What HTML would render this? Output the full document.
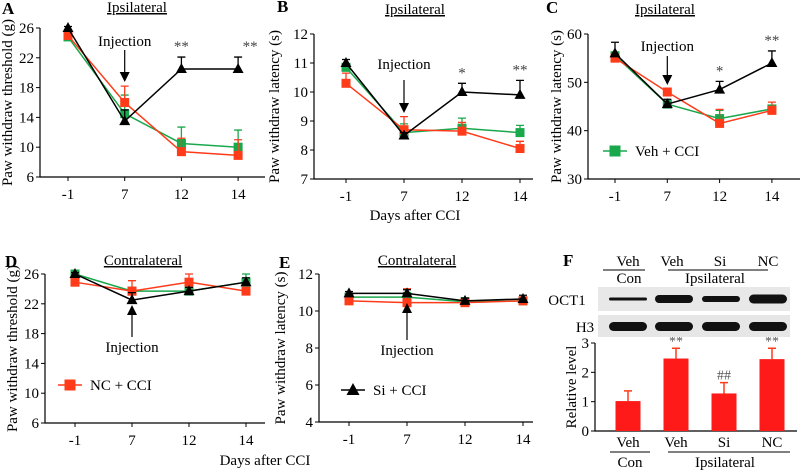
<!DOCTYPE html>
<html><head><meta charset="utf-8">
<style>
html,body{margin:0;padding:0;background:#fff;}
svg, svg text{font-family:"Liberation Serif","DejaVu Serif","Times New Roman",serif;}
</style></head>
<body>
<svg id="fig" width="800" height="470" viewBox="0 0 800 470" font-family="Liberation Serif, DejaVu Serif, serif"></svg>
<script>
const days = ["-1","7","12","14"];
// Panel A
const aSi = [26, 13.5, 20.5, 20.5];
const aSiErr = [26.2, 15, 22.1, 22.1];
const aNC = [25, 16, 9.4, 8.9];
const aNCErr = [25.6, 18.2, 11.2, 11];
const aVeh = [24.8, 14.5, 10.5, 10];
const aVehErr = [25.2, 17, 12.7, 12.3];
const aTicks = [6, 10, 14, 18, 22, 26];
// Panel B
const bSi = [11, 8.5, 10, 9.9];
const bSiErr = [11.12, 8.6, 10.3, 10.4];
const bNC = [10.3, 8.7, 8.65, 8.05];
const bNCErr = [10.65, 9.15, 8.95, 8.3];
const bVeh = [10.85, 8.6, 8.75, 8.6];
const bVehErr = [10.95, 8.9, 9.1, 8.85];
const bTicks = [7, 8, 9, 10, 11, 12];
// Panel C
const cSi = [56, 45.5, 48.5, 54];
const cSiErr = [58.3, 46.5, 50.2, 56.5];
const cNC = [55, 48, 41.5, 44.2];
const cNCErr = [55.5, 48.8, 44.4, 45.9];
const cVeh = [55.5, 45.5, 42.5, 44.5];
const cVehErr = [56, 46, 44.2, 45.2];
const cTicks = [30, 40, 50, 60];
// Panel D
const dSi = [26, 22.5, 23.7, 24.9];
const dSiErr = [26.2, 23.5, 24.2, 25.5];
const dNC = [24.9, 23.7, 24.9, 23.7];
const dNCErr = [25.2, 25.1, 26, 24.1];
const dVeh = [26, 23.7, 23.7, 24.9];
const dVehErr = [26.2, 24.2, 24.1, 26];
const dTicks = [6, 10, 14, 18, 22, 26];
// Panel E
const eSi = [10.95, 10.95, 10.55, 10.65];
const eSiErr = [11.05, 11.15, 10.7, 10.85];
const eNC = [10.55, 10.45, 10.45, 10.55];
const eNCErr = [10.65, 11.2, 10.55, 10.65];
const eVeh = [10.75, 10.75, 10.5, 10.55];
const eVehErr = [10.85, 11.0, 10.7, 10.7];
const eTicks = [4, 6, 8, 10, 12];
// Panel F
const fGroups = ["Veh", "Veh", "Si", "NC"];
const fValues = [1.02, 2.47, 1.28, 2.45];
const fErr = [1.37, 2.82, 1.65, 2.82];
const fMarks = ["", "**", "##", "**"];
const fTicks = [0, 1, 2, 3];

const NS = "http://www.w3.org/2000/svg";
const svg = document.getElementById("fig");
const RED = "#ff3b1a", GREEN = "#1aa84c", BLACK = "#000";
const FONT = '"Liberation Serif", "DejaVu Serif", serif';
function mk(tag, attrs, parent, text) {
  const e = document.createElementNS(NS, tag);
  for (const k in attrs) e.setAttribute(k, attrs[k]);
  if (text !== undefined) e.textContent = text;
  (parent || svg).appendChild(e);
  return e;
}
function txt(x, y, s, size, anchor, parent, extra) {
  const t = mk("text", Object.assign({x: x, y: y, "font-size": size, "text-anchor": anchor || "middle", fill: "#000", "font-family": FONT}, extra || {}), parent, s);
  return t;
}

function linePanel(p) {
  const g = mk("g", {});
  
  
  const ys = v => p.yBot - (v - p.ymin) / (p.ymax - p.ymin) * (p.yBot - p.yTop);
  const xs = i => p.first + i * p.step;
  const ax = mk("path", {d: `M${p.x0},${p.yTop} V${p.yBot} H${p.x1}`, stroke: "#000", "stroke-width": 1.2, fill: "none"}, g);
  
  
  p.ticks.forEach(v => {
    mk("line", {x1: p.x0 - 4, x2: p.x0, y1: ys(v), y2: ys(v), stroke: "#000"}, g);
    const t = txt(p.x0 - 6, ys(v) + 5, String(v), 15, "end", g);
    
    
  });
  days.forEach((d, i) => {
    mk("line", {x1: xs(i), x2: xs(i), y1: p.yBot, y2: p.yBot + 4, stroke: "#000"}, g);
    const t = txt(xs(i), p.yBot + 22, d, 15, "middle", g);
    
    
  });
  const yl = txt(0, 0, p.ylabel, 15, "middle", g, {transform: `translate(${p.ylx},${(p.yTop + p.yBot) / 2}) rotate(-90)`});
  
  
  const tt = txt(p.titleX, p.titleY, p.title, 15, "middle", g, {"text-decoration": "underline"});
  
  
  const lt = txt(p.letterX, p.letterY, p.letter, 17, "start", g, {"font-weight": "bold"});
  
  
  p.series.forEach(s => {
    const pts = s.vals.map((v, i) => `${xs(i)},${ys(v)}`).join(" ");
    const pl = mk("polyline", {points: pts, fill: "none", stroke: s.color, "stroke-width": 1.5}, g);
    
    
    s.vals.forEach((v, i) => {
      const e = s.err[i];
      const eb = mk("path", {d: `M${xs(i)},${ys(v)} V${ys(e)} M${xs(i) - 4},${ys(e)} H${xs(i) + 4}`, stroke: s.color, "stroke-width": 1.3, fill: "none"}, g);
      
      
      let m;
      if (s.shape === "tri") {
        m = mk("path", {d: `M${xs(i)},${ys(v) - 6} L${xs(i) + 5.5},${ys(v) + 4} L${xs(i) - 5.5},${ys(v) + 4} Z`, fill: s.color}, g);
      } else {
        m = mk("rect", {x: xs(i) - 4.5, y: ys(v) - 4.5, width: 9, height: 9, fill: s.color}, g);
      }
      
      
    });
  });
  (p.stars || []).forEach(st => {
    const t = txt(xs(st[0]) + (st[2] || 0), ys(p.series[2].err[st[0]]) - 6, st[1], 15, "middle", g, {fill: "#444"});
    
    
  });
  const ia = p.inj;
  const ag = mk("g", {}, g);
  
  
  const ax2 = xs(1);
  txt(ax2, ia.ty, "Injection", 15, "middle", ag);
  if (ia.dir === "down") {
    mk("line", {x1: ax2, x2: ax2, y1: ia.y1, y2: ia.y2 - 8, stroke: "#000", "stroke-width": 1.2}, ag);
    mk("path", {d: `M${ax2 - 5},${ia.y2 - 10} L${ax2 + 5},${ia.y2 - 10} L${ax2},${ia.y2} Z`, fill: "#000"}, ag);
  } else {
    mk("line", {x1: ax2, x2: ax2, y1: ia.y1, y2: ia.y2 + 8, stroke: "#000", "stroke-width": 1.2}, ag);
    mk("path", {d: `M${ax2 - 5},${ia.y2 + 10} L${ax2 + 5},${ia.y2 + 10} L${ax2},${ia.y2} Z`, fill: "#000"}, ag);
  }
  if (p.legend) {
    const lg = mk("g", {}, g);
    
    
    const L = p.legend;
    mk("line", {x1: L.x - 12, x2: L.x + 12, y1: L.y, y2: L.y, stroke: L.color, "stroke-width": 1.5}, lg);
    if (L.shape === "tri") mk("path", {d: `M${L.x},${L.y - 7} L${L.x + 6.5},${L.y + 5} L${L.x - 6.5},${L.y + 5} Z`, fill: L.color}, lg);
    else mk("rect", {x: L.x - 5.5, y: L.y - 5.5, width: 11, height: 11, fill: L.color}, lg);
    txt(L.x + 20, L.y + 5, L.text, 15, "start", lg);
  }
}
function S(label, vals, err, color, shape) { return {label, vals, err, color, shape}; }

linePanel({name: "panel-a", x0: 40, x1: 265, yTop: 28, yBot: 177, ymin: 6, ymax: 26, first: 68, step: 56.7, ticks: aTicks,
  ylabel: "Paw withdraw threshold (g)", ylx: 12, title: "Ipsilateral", titleX: 137, titleY: 12, letter: "A", letterX: 2, letterY: 14,
  series: [S("veh-cci", aVeh, aVehErr, GREEN, "sq"), S("nc-cci", aNC, aNCErr, RED, "sq"), S("si-cci", aSi, aSiErr, BLACK, "tri")],
  stars: [[2, "**"], [3, "**", 12]], inj: {dir: "down", ty: 46, y1: 50, y2: 82}});
linePanel({name: "panel-b", x0: 314, x1: 533, yTop: 34, yBot: 179, ymin: 7, ymax: 12, first: 346, step: 58, ticks: bTicks,
  ylabel: "Paw withdraw latency (s)", ylx: 279, title: "Ipsilateral", titleX: 415, titleY: 14, letter: "B", letterX: 277, letterY: 12,
  series: [S("veh-cci", bVeh, bVehErr, GREEN, "sq"), S("nc-cci", bNC, bNCErr, RED, "sq"), S("si-cci", bSi, bSiErr, BLACK, "tri")],
  stars: [[2, "*"], [3, "**"]], inj: {dir: "down", ty: 69, y1: 80, y2: 113}});
linePanel({name: "panel-c", x0: 588, x1: 800, yTop: 34, yBot: 179, ymin: 30, ymax: 60, first: 615, step: 52.3, ticks: cTicks,
  ylabel: "Paw withdraw latency (s)", ylx: 561, title: "Ipsilateral", titleX: 665, titleY: 14, letter: "C", letterX: 546, letterY: 13,
  series: [S("veh-cci", cVeh, cVehErr, GREEN, "sq"), S("nc-cci", cNC, cNCErr, RED, "sq"), S("si-cci", cSi, cSiErr, BLACK, "tri")],
  stars: [[2, "*"], [3, "**"]], inj: {dir: "down", ty: 51, y1: 56, y2: 85},
  legend: {x: 615, y: 151, color: GREEN, shape: "sq", text: "Veh + CCI"}});
linePanel({name: "panel-d", x0: 45, x1: 265, yTop: 274, yBot: 423, ymin: 6, ymax: 26, first: 75, step: 57, ticks: dTicks,
  ylabel: "Paw withdraw threshold (g)", ylx: 17, title: "Contralateral", titleX: 143, titleY: 265, letter: "D", letterX: 5, letterY: 267,
  series: [S("veh-cci", dVeh, dVehErr, GREEN, "sq"), S("nc-cci", dNC, dNCErr, RED, "sq"), S("si-cci", dSi, dSiErr, BLACK, "tri")],
  inj: {dir: "up", ty: 352, y1: 337, y2: 305},
  legend: {x: 70, y: 385, color: RED, shape: "sq", text: "NC + CCI"}});
linePanel({name: "panel-e", x0: 319, x1: 533, yTop: 274, yBot: 422, ymin: 4, ymax: 12, first: 349, step: 58, ticks: eTicks,
  ylabel: "Paw withdraw latency (s)", ylx: 285, title: "Contralateral", titleX: 417, titleY: 265, letter: "E", letterX: 279, letterY: 268,
  series: [S("veh-cci", eVeh, eVehErr, GREEN, "sq"), S("nc-cci", eNC, eNCErr, RED, "sq"), S("si-cci", eSi, eSiErr, BLACK, "tri")],
  inj: {dir: "up", ty: 355, y1: 340, y2: 303},
  legend: {x: 353, y: 390, color: BLACK, shape: "tri", text: "Si + CCI"}});

const x1 = txt(415, 220, "Days after CCI", 15, "middle");


const x2 = txt(265, 465, "Days after CCI", 15, "middle");



(function () {
  const g = mk("g", {});
  
  
  const y0 = 431, yT = 343, ax0 = 595;
  const ys = v => y0 - v / 3 * (y0 - yT);
  const xc = [628, 676, 724, 772];
  mk("path", {d: `M${ax0},${yT} V${y0} H797`, stroke: "#000", "stroke-width": 1.2, fill: "none"}, g);
  fTicks.forEach(v => {
    mk("line", {x1: ax0 - 4, x2: ax0, y1: ys(v), y2: ys(v), stroke: "#000"}, g);
    const t = txt(ax0 - 6, ys(v) + 5, String(v), 15, "end", g);
    
    
  });
  const yl = txt(0, 0, "Relative level", 15, "middle", g, {transform: `translate(${576},${387}) rotate(-90)`});
  
  
  fValues.forEach((v, i) => {
    const eb = mk("path", {d: `M${xc[i]},${ys(v)} V${ys(fErr[i])} M${xc[i] - 4},${ys(fErr[i])} H${xc[i] + 4}`, stroke: RED, "stroke-width": 1.5, fill: "none"}, g);
    
    
    const r = mk("rect", {x: xc[i] - 12.5, y: ys(v), width: 25, height: y0 - ys(v), fill: "#ff1a1a"}, g);
    
    
    if (fMarks[i]) {
      const t = txt(xc[i], ys(fErr[i]) - 3, fMarks[i], 14, "middle", g, {fill: "#555"});
      
      
    }
    const l = txt(xc[i], 447, fGroups[i], 15, "middle", g);
    
    
    const l2 = txt(xc[i] - (i === 0 ? 0 : 4), 266, fGroups[i], 15, "middle", g);
    
    
  });
  mk("line", {x1: 610, x2: 650, y1: 452, y2: 452, stroke: "#000"}, g);
  mk("line", {x1: 668, x2: 790, y1: 452, y2: 452, stroke: "#000"}, g);
  txt(630, 467, "Con", 15, "middle", g);
  txt(725, 467, "Ipsilateral", 15, "middle", g);
  mk("line", {x1: 603, x2: 645, y1: 270, y2: 270, stroke: "#000"}, g);
  mk("line", {x1: 668, x2: 768, y1: 270, y2: 270, stroke: "#000"}, g);
  txt(629, 283, "Con", 15, "middle", g);
  txt(715, 283, "Ipsilateral", 15, "middle", g);
  const fl = txt(563, 266, "F", 17, "start", g, {"font-weight": "bold"});
  
  
  const b1 = mk("rect", {x: 598, y: 287, width: 192, height: 24, fill: "#e8e8e8"}, g);
  
  
  const b2 = mk("rect", {x: 598, y: 315, width: 192, height: 22, fill: "#e6e6e6"}, g);
  
  
  txt(567, 305, "OCT1", 15, "middle", g);
  txt(585, 332, "H3", 15, "middle", g);
  const oh = [3, 8, 6, 9];
  const bx = [609, 655, 702, 749];
  bx.forEach((x, i) => {
    mk("rect", {x: x, y: 299 - oh[i] / 2, width: 38, height: oh[i], rx: oh[i] / 2, fill: "#111"}, g);
    mk("rect", {x: x, y: 322, width: 38, height: 9, rx: 4.5, fill: "#111"}, g);
  });
})();
</script>
</body></html>
